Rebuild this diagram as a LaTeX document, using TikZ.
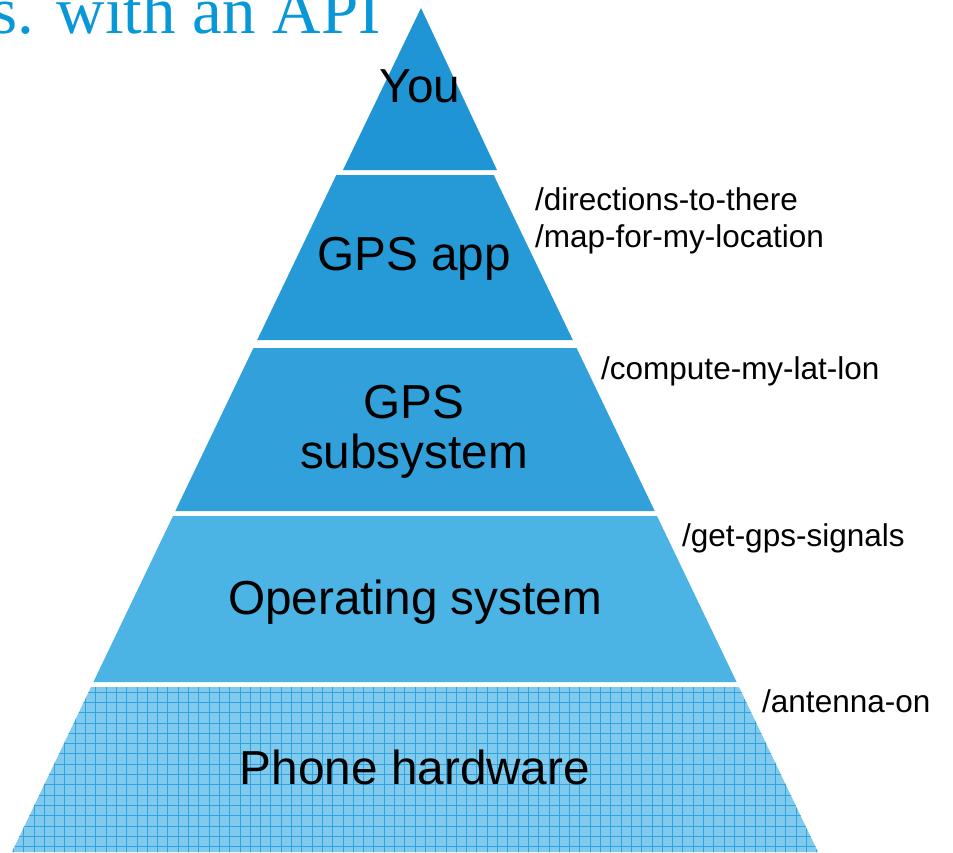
\documentclass[tikz,border=0pt]{standalone}
\usepackage{fontspec}
\setmainfont{Liberation Sans}
\newfontfamily\titlefont{Liberation Serif}
\definecolor{titleblue}{RGB}{8,152,216}
\definecolor{bandA}{RGB}{32,149,213}
\definecolor{bandB}{RGB}{38,153,215}
\definecolor{bandC}{RGB}{50,161,219}
\definecolor{bandD}{RGB}{76,179,229}
\definecolor{bandE}{RGB}{128,202,238}
\definecolor{gridline}{RGB}{48,163,222}
\tikzset{
  layerlabel/.style={inner sep=0pt, anchor=base, font=\fontsize{47.7}{52}\selectfont, text=black},
  apilabel/.style={inner sep=0pt, anchor=base west, font=\fontsize{31.5}{37.5}\selectfont, text=black, align=left},
}
\begin{document}
\begin{tikzpicture}[x=1pt,y=-1pt]
\useasboundingbox (0,0) rectangle (953,852);
% title
\node[anchor=base east, inner sep=0pt, font=\titlefont\fontsize{67}{67}\selectfont, text=titleblue] (title) at (381,33) {s. with an API};
% bands
\fill[bandA] (421,8) -- (497,170) -- (343,170) -- cycle;
\fill[bandB] (336.3,175) -- (493.7,175) -- (572.8,340) -- (257.2,340) -- cycle;
\fill[bandC] (253.4,348) -- (576.6,348) -- (654.7,511) -- (175.3,511) -- cycle;
\fill[bandD] (173,516) -- (657,516) -- (736.6,682) -- (93.4,682) -- cycle;
\fill[bandE] (91,687) -- (739,687) -- (818,852) -- (12,852) -- cycle;
\begin{scope}
  \clip (91,687) -- (739,687) -- (818,852) -- (12,852) -- cycle;
  \foreach \i in {0,...,80} {
    \draw[gridline, line width=0.8pt] (\i*10.3+3,687) -- ++(0,170);
  }
  \foreach \j in {0,...,17} {
    \draw[gridline, line width=0.8pt] (0,\j*10.3+692) -- ++(953,0);
  }
\end{scope}
% layer labels
\node[layerlabel] (you) at (420,102) {You};
\node[layerlabel] (app) at (414,270) {GPS app};
\node[layerlabel] (subsys) at (414,418) {GPS};
\node[layerlabel] (subsys2) at (414,468) {subsystem};
\node[layerlabel] (os) at (415,614) {Operating system};
\node[layerlabel] (hw) at (415,784) {Phone hardware};
% API labels
\node[apilabel] (apiA) at (535,210) {/directions-to-there};
\node[apilabel] (apiB) at (535,247) {/map-for-my-location};
\node[apilabel] (apiC) at (601,379) {/compute-my-lat-lon};
\node[apilabel] (apiD) at (682,546) {/get-gps-signals};
\node[apilabel] (apiE) at (762,712) {/antenna-on};
\end{tikzpicture}
\end{document}
